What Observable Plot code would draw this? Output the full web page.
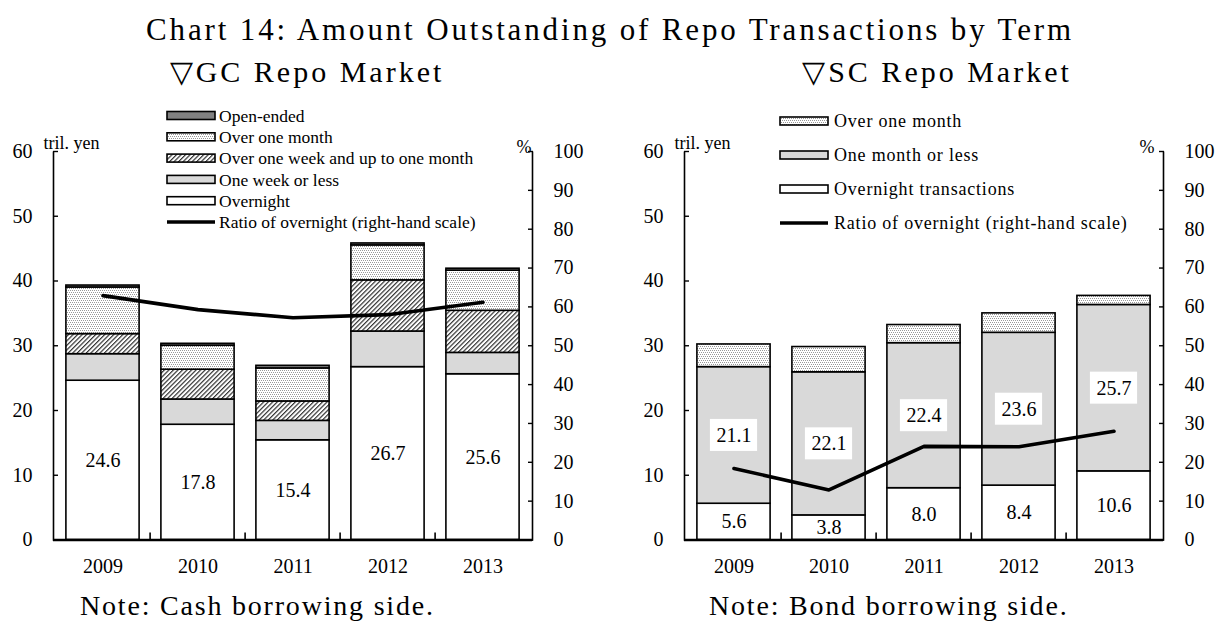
<!DOCTYPE html>
<html><head><meta charset="utf-8">
<script src="https://cdn.jsdelivr.net/npm/d3@7"></script>
<script src="https://cdn.jsdelivr.net/npm/@observablehq/plot@0.6"></script>
<style>
body{margin:0;background:#fff;color:#000;}
#page{position:relative;width:1219px;height:625px;overflow:hidden;font-family:"Liberation Serif","Times New Roman",serif;background:#fff;}
#left,#right{position:absolute;top:90px;}
#left{left:0px}
#right{left:620px}
#overlay{position:absolute;left:0;top:0;}
</style></head><body>
<div id="page">
<svg width="0" height="0" style="position:absolute">
<defs>
<pattern id="dots" width="4" height="4" patternUnits="userSpaceOnUse"><rect width="4" height="4" fill="#fff"/><rect x="0" y="0" width="1" height="1" fill="#999"/><rect x="2" y="0" width="1" height="1" fill="#999"/><rect x="1" y="2" width="1" height="1" fill="#999"/><rect x="3" y="2" width="1" height="1" fill="#999"/></pattern>
<pattern id="hatch" width="3.2" height="3.2" patternUnits="userSpaceOnUse" patternTransform="rotate(45)"><rect width="3.2" height="3.2" fill="#fff"/><line x1="0.6" y1="0" x2="0.6" y2="3.2" stroke="#333" stroke-width="1.2"/></pattern>
</defs></svg>
<div id="left"></div><div id="right"></div>
<svg id="overlay" width="1219" height="625"></svg>
</div>
<script>
// ---------- data ----------
const years = ["2009", "2010", "2011", "2012", "2013"];

const gcSeries = ["Overnight", "One week or less", "Over one week and up to one month", "Over one month", "Open-ended"];
const gcOvernight       = [24.6, 17.8, 15.4, 26.7, 25.6];
const gcOneWeekOrLess   = [4.1, 3.9, 3.0, 5.5, 3.3];
const gcOverWeekToMonth = [3.1, 4.6, 3.0, 7.9, 6.5];
const gcOverOneMonth    = [7.2, 3.7, 5.1, 5.4, 6.2];
const gcOpenEnded       = [0.3, 0.3, 0.4, 0.3, 0.3];
const gcRatio           = [62.9, 59.3, 57.2, 58.0, 61.2];

const scSeries = ["Overnight transactions", "One month or less", "Over one month"];
const scOvernight      = [5.6, 3.8, 8.0, 8.4, 10.6];
const scOneMonthOrLess = [21.1, 22.1, 22.4, 23.6, 25.7];
const scOverOneMonth   = [3.5, 3.9, 2.8, 3.0, 1.4];
const scRatio          = [18.4, 12.9, 24.1, 24.0, 28.0];

const leftTicks  = [0, 10, 20, 30, 40, 50, 60];
const rightTicks = [0, 10, 20, 30, 40, 50, 60, 70, 80, 90, 100];

const gcFills = ["white", "#d9d9d9", "url(#hatch)", "url(#dots)", "#808080"];
const scFills = ["white", "#d9d9d9", "url(#dots)"];

// ---------- helpers ----------
const FONT = "'Liberation Serif','Times New Roman',serif";
const RATIO_K = 60 / 100; // right scale (0-100 %) mapped onto left scale (0-60)

function tidy(series, arrays) {
  return years.flatMap((year, i) => series.map((s, k) => ({year, series: s, value: arrays[k][i]})));
}

function chart({rows, series, fills, ratio, labelRows, boxRows, width, mL, mR, pctDx}) {
  const H = 535, mT = 61, mB = 85.5;
  const w = width - mL - mR, h = H - mT - mB;
  const step = w / years.length;
  const unit = h / 60;
  const barInset = (step - 74) / 2;
  const boxInset = (step - 48) / 2;
  const boxHalf = 16 / unit;
  const ratioRows = years.map((year, i) => ({year, ratio: ratio[i]}));
  return Plot.plot({
    width, height: H, marginLeft: mL, marginRight: mR, marginTop: mT, marginBottom: mB,
    style: {fontFamily: FONT, fontSize: "20px", color: "black", background: "transparent", overflow: "visible"},
    x: {domain: years, padding: 0, label: null},
    y: {domain: [0, 60], label: null, axis: null},
    color: {domain: series, range: fills},
    marks: [
      Plot.barY(rows, {x: "year", y: "value", fill: "series", stroke: "black", strokeWidth: 1.6,
        insetLeft: barInset, insetRight: barInset}),
      // axis frame: left, bottom, right (no top)
      Plot.frame({stroke: "black", strokeWidth: 1.6, strokeDasharray: `0 ${w} ${2 * h + w}`}),
      Plot.ruleY([0], {stroke: "black", strokeWidth: 2.4}),
      // category separator ticks
      Plot.ruleX(years.slice(1), {x: d => d, y1: 0, y2: 7 / unit, dx: -step / 2, stroke: "black", strokeWidth: 1.6}),
      // left axis
      Plot.axisY(leftTicks, {anchor: "left", tickSize: 5, dx: 5, tickFormat: () => "", label: null, strokeWidth: 1.4}),
      Plot.axisY(leftTicks, {anchor: "left", tickSize: 0, tickPadding: 21, label: null}),
      // right axis
      Plot.axisY(rightTicks.map(v => v * RATIO_K), {anchor: "right", tickSize: 5, dx: -5, tickFormat: () => "", label: null, strokeWidth: 1.4}),
      Plot.axisY(rightTicks.map(v => v * RATIO_K), {anchor: "right", tickSize: 0, tickPadding: 21, label: null,
        tickFormat: d => String(Math.round(d / RATIO_K))}),
      // x axis labels
      Plot.axisX({tickSize: 0, tickPadding: 19, label: null}),
      // data labels
      Plot.barY(boxRows, {x: "year", y1: d => d.base + d.v / 2 - boxHalf, y2: d => d.base + d.v / 2 + boxHalf,
        fill: "white", insetLeft: boxInset, insetRight: boxInset}),
      Plot.text(labelRows, {x: "year", y: d => d.base + d.v / 2, text: d => d.v.toFixed(1), fill: "black"}),
      Plot.text(boxRows, {x: "year", y: d => d.base + d.v / 2, text: d => d.v.toFixed(1), fill: "black"}),
      // ratio line
      Plot.line(ratioRows, {x: "year", y: d => d.ratio * RATIO_K, stroke: "black", strokeWidth: 3.6}),
      // unit labels
      Plot.text(["tril. yen"], {frameAnchor: "top-left", textAnchor: "start", dx: -10, dy: -15.5, fontSize: 18, letterSpacing: 0.6, fill: "black"}),
      Plot.text(["%"], {frameAnchor: "top-right", textAnchor: "end", dx: pctDx, dy: -11, fontSize: 18, fill: "black"})
    ]
  });
}

// ---------- GC chart ----------
const gcRows = tidy(gcSeries, [gcOvernight, gcOneWeekOrLess, gcOverWeekToMonth, gcOverOneMonth, gcOpenEnded]);
document.getElementById("left").appendChild(chart({
  rows: gcRows, series: gcSeries, fills: gcFills, ratio: gcRatio,
  labelRows: years.map((year, i) => ({year, v: gcOvernight[i], base: 0})),
  boxRows: [],
  width: 600, mL: 53, mR: 68, pctDx: -1
}));

// ---------- SC chart ----------
const scRows = tidy(scSeries, [scOvernight, scOneMonthOrLess, scOverOneMonth]);
document.getElementById("right").appendChild(chart({
  rows: scRows, series: scSeries, fills: scFills, ratio: scRatio,
  labelRows: years.map((year, i) => ({year, v: scOvernight[i], base: 0})),
  boxRows: years.map((year, i) => ({year, v: scOneMonthOrLess[i], base: scOvernight[i]})),
  width: 599, mL: 64, mR: 56, pctDx: -9
}));

// ---------- titles, legends, notes ----------
const ov = d3.select("#overlay").style("font-family", FONT);
function txt(x, y, s, size, ls, anchor) {
  ov.append("text").attr("x", x).attr("y", y).attr("font-size", size)
    .attr("letter-spacing", ls).attr("text-anchor", anchor || "start").attr("fill", "black").text(s);
}
txt(610, 40, "Chart 14: Amount Outstanding of Repo Transactions by Term", 31, 2.85, "middle");
txt(307, 82, "\u25BDGC Repo Market", 30, 3.0, "middle");
txt(937, 82, "\u25BDSC Repo Market", 30, 3.0, "middle");
txt(80, 615, "Note: Cash borrowing side.", 28, 1.8);
txt(709, 615, "Note: Bond borrowing side.", 28, 1.8);

function legend(x0, y0, dy, sw, textX, size, ls, items) {
  items.forEach((it, i) => {
    const cy = y0 + i * dy;
    if (it.line) {
      ov.append("line").attr("x1", x0).attr("x2", x0 + sw).attr("y1", cy).attr("y2", cy)
        .attr("stroke", "black").attr("stroke-width", 3.6);
    } else {
      ov.append("rect").attr("x", x0).attr("y", cy - 4).attr("width", sw).attr("height", 8)
        .attr("fill", it.fill).attr("stroke", "black").attr("stroke-width", 1.6);
    }
    txt(textX, cy + 6.2, it.label, size, ls);
  });
}
legend(167, 115.5, 21.3, 48, 219, 17.5, 0, [
  {label: gcSeries[4], fill: gcFills[4]},
  {label: gcSeries[3], fill: gcFills[3]},
  {label: gcSeries[2], fill: gcFills[2]},
  {label: gcSeries[1], fill: gcFills[1]},
  {label: gcSeries[0], fill: gcFills[0]},
  {label: "Ratio of overnight (right-hand scale)", line: true}
]);
legend(780, 121, 34, 48, 834, 18, 0.8, [
  {label: scSeries[2], fill: scFills[2]},
  {label: scSeries[1], fill: scFills[1]},
  {label: scSeries[0], fill: scFills[0]},
  {label: "Ratio of overnight (right-hand scale)", line: true}
]);
</script>
</body></html>
